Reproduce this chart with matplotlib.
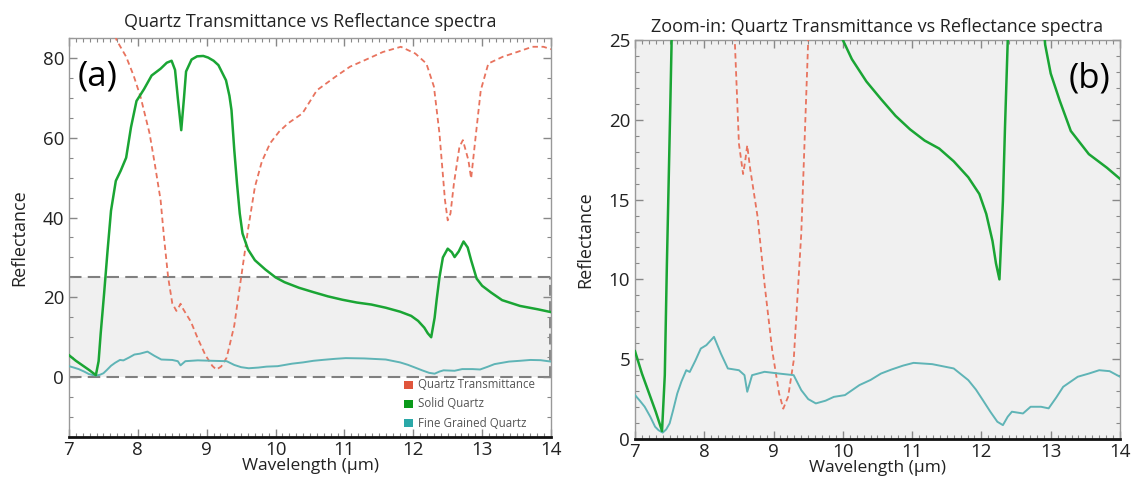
import numpy as np
import matplotlib
matplotlib.use("Agg")
import matplotlib.pyplot as plt
from matplotlib.ticker import MultipleLocator
from matplotlib.patches import Rectangle

plt.rcParams['font.family'] = ['Open Sans', 'DejaVu Sans']

# ---------------- data ----------------
solid_x = [7.0, 7.1, 7.2, 7.3, 7.39, 7.43, 7.46, 7.51, 7.56, 7.61, 7.68, 7.75, 7.83, 7.90,
           7.98, 8.09, 8.20, 8.33, 8.42, 8.49, 8.54, 8.58, 8.63, 8.67, 8.70, 8.78, 8.86,
           8.95, 9.02, 9.10, 9.17, 9.28, 9.33, 9.36, 9.40, 9.44, 9.48, 9.52, 9.60, 9.70,
           9.85, 10.0, 10.13, 10.34, 10.55, 10.76, 10.97, 11.18, 11.39, 11.60, 11.81,
           11.97, 12.07, 12.16, 12.21, 12.26, 12.31, 12.34, 12.38, 12.43, 12.50, 12.56,
           12.60, 12.66, 12.73, 12.79, 12.84, 12.92, 13.0, 13.13, 13.29, 13.55, 13.81, 14.0]
solid_y = [5.5, 4.1, 2.9, 1.7, 0.5, 4.0, 10.9, 21.0, 31.7, 41.7, 49.2, 51.7, 55.0, 62.6,
           69.2, 72.2, 75.6, 77.3, 78.8, 79.3, 77.0, 70.0, 61.9, 70.0, 76.6, 79.6, 80.4,
           80.5, 80.1, 79.3, 78.2, 74.4, 70.5, 66.9, 57.0, 48.5, 41.0, 36.0, 32.0, 29.3,
           27.0, 25.0, 23.8, 22.4, 21.3, 20.25, 19.4, 18.7, 18.2, 17.4, 16.4,
           15.35, 14.1, 12.4, 11.0, 10.0, 14.9, 19.5, 25.0, 30.0, 32.2, 31.3,
           30.1, 31.5, 34.0, 32.5, 29.3, 24.7, 22.9, 21.2, 19.3, 17.85, 17.0, 16.3]

fine_x = [7.0, 7.07, 7.14, 7.22, 7.29, 7.34, 7.40, 7.45, 7.50, 7.55, 7.61, 7.67, 7.74, 7.79,
          7.87, 7.95, 8.03, 8.14, 8.24, 8.34, 8.50, 8.58, 8.62, 8.69, 8.87, 9.08, 9.29,
          9.40, 9.50, 9.61, 9.75, 9.87, 10.03, 10.24, 10.40, 10.55, 10.70, 10.87, 11.02,
          11.29, 11.60, 11.81, 11.92, 12.02, 12.13, 12.23, 12.31, 12.38, 12.44, 12.60,
          12.71, 12.86, 12.97, 13.08, 13.18, 13.39, 13.55, 13.70, 13.85, 14.0]
fine_y = [2.75, 2.4, 2.02, 1.4, 0.77, 0.55, 0.40, 0.6, 0.98, 1.8, 2.85, 3.6, 4.31, 4.2,
          4.9, 5.67, 5.88, 6.40, 5.35, 4.42, 4.31, 4.0, 2.96, 4.0, 4.21, 4.1, 4.0,
          3.06, 2.5, 2.23, 2.4, 2.64, 2.75, 3.38, 3.7, 4.1, 4.35, 4.6, 4.77,
          4.69, 4.42, 3.69, 3.1, 2.44, 1.7, 1.08, 0.87, 1.4, 1.71, 1.6,
          2.02, 2.02, 1.92, 2.6, 3.27, 3.9, 4.1, 4.31, 4.25, 3.9]

trans_x = [7.60, 7.69, 7.83, 7.94, 8.04, 8.17, 8.25, 8.33, 8.38, 8.44, 8.50, 8.56, 8.59,
           8.62, 8.66, 8.77, 8.87, 8.98, 9.08, 9.14, 9.21, 9.29, 9.40, 9.50, 9.60, 9.70,
           9.80, 9.92, 10.05, 10.18, 10.39, 10.60, 10.87, 11.08, 11.29, 11.56, 11.82,
           12.03, 12.19, 12.30, 12.38, 12.46, 12.50, 12.54, 12.59, 12.67, 12.72, 12.80,
           12.84, 12.90, 12.98, 13.09, 13.30, 13.51, 13.73, 13.89, 14.0]
trans_y = [90.0, 84.5, 80.3, 75.5, 70.2, 61.1, 53.0, 44.4, 35.0, 25.0, 18.5, 16.6, 17.4,
           18.4, 17.0, 13.9, 9.7, 5.56, 2.85, 1.9, 2.65, 4.9, 12.9, 25.0, 37.0, 47.7,
           54.0, 58.6, 61.5, 63.6, 66.1, 71.9, 75.3, 77.8, 79.4, 81.5, 82.8,
           81.1, 78.6, 72.8, 61.1, 44.4, 39.3, 41.0, 48.5, 57.7, 59.4, 54.4,
           49.8, 59.4, 71.9, 78.6, 80.3, 81.5, 82.8, 82.8, 82.2]

legend_labels = ["Quartz Transmittance", "Solid Quartz", "Fine Grained Quartz"]

# ---------------- style ----------------
c_trans = "#e8735e"
c_solid = "#1aa534"
c_fine = "#5fb4b6"
leg_colors = ["#e0553c", "#0a9a1a", "#2aa8a8"]
grey = "#888888"

W, H = 1131, 483
fig = plt.figure(figsize=(W / 100, H / 100), dpi=100)
axL = fig.add_axes([69 / W, (H - 437) / H, 482 / W, 399 / H])
axR = fig.add_axes([635 / W, (H - 439) / H, 485 / W, 399 / H])


def style(ax, ymaj, ymin):
    ax.set_xlim(7, 14)
    ax.xaxis.set_major_locator(MultipleLocator(1))
    ax.xaxis.set_minor_locator(MultipleLocator(0.1))
    ax.yaxis.set_major_locator(MultipleLocator(ymaj))
    ax.yaxis.set_minor_locator(MultipleLocator(ymin))
    ax.tick_params(which='both', direction='in', top=True, right=True, color=grey,
                   labelsize=13.5, labelcolor="#222222")
    ax.tick_params(which='major', length=6, width=1)
    ax.tick_params(which='minor', length=3, width=0.8)
    ax.tick_params(axis='x', pad=3)
    for s in ['top', 'left', 'right']:
        ax.spines[s].set_color("#999999")
        ax.spines[s].set_linewidth(1.0)
    ax.spines['bottom'].set_color("#111111")
    ax.spines['bottom'].set_linewidth(2.0)
    ax.set_xlabel("Wavelength (µm)", fontsize=12.5, labelpad=-1, color="#222222")
    ax.set_ylabel("Reflectance", fontsize=13, labelpad=10, color="#222222")


# Left panel
style(axL, 20, 5)
axL.set_ylim(-15, 85)
axL.add_patch(Rectangle((7, 0), 7, 25, facecolor="#f0f0f0", edgecolor="none", zorder=0))
dash = (0, (6, 3))
axL.axhline(25, color="#808080", ls=dash, lw=1.5, zorder=1)
axL.axhline(0, color="#808080", ls=dash, lw=1.5, zorder=1)
axL.plot([13.99, 13.99], [0, 25], color="#808080", ls=dash, lw=1.3, zorder=1)
axL.plot(trans_x, trans_y, color=c_trans, ls=(0, (3, 2)), lw=1.3, zorder=3)
axL.plot(fine_x, fine_y, color=c_fine, lw=1.4, zorder=3)
axL.plot(solid_x, solid_y, color=c_solid, lw=1.8, zorder=4)
axL.set_title("Quartz Transmittance vs Reflectance spectra", fontsize=13, pad=8, color="#222222")
axL.text(0.018, 0.945, "(a)", transform=axL.transAxes, fontsize=25, va='top', ha='left')
leg_y = [-1.9, -6.7, -11.6]
for lab, col, yy in zip(legend_labels, leg_colors, leg_y):
    axL.add_patch(Rectangle((11.86, yy - 1.0), 0.13, 2.0, facecolor=col, edgecolor='none', zorder=5))
    axL.text(12.07, yy, lab, fontsize=8.3, color="#555555", va='center', ha='left')

# Right panel
style(axR, 5, 1)
axR.set_ylim(0, 25)
axR.set_facecolor("#f0f0f0")
axR.plot(trans_x, trans_y, color=c_trans, ls=(0, (3, 2)), lw=1.3, zorder=3)
axR.plot(fine_x, fine_y, color=c_fine, lw=1.4, zorder=3)
axR.plot(solid_x, solid_y, color=c_solid, lw=1.8, zorder=4)
axR.set_title("Zoom-in: Quartz Transmittance vs Reflectance spectra", fontsize=13, pad=6, color="#222222")
axR.text(0.981, 0.945, "(b)", transform=axR.transAxes, fontsize=25, va='top', ha='right')

fig.savefig("out.png", dpi=100)
